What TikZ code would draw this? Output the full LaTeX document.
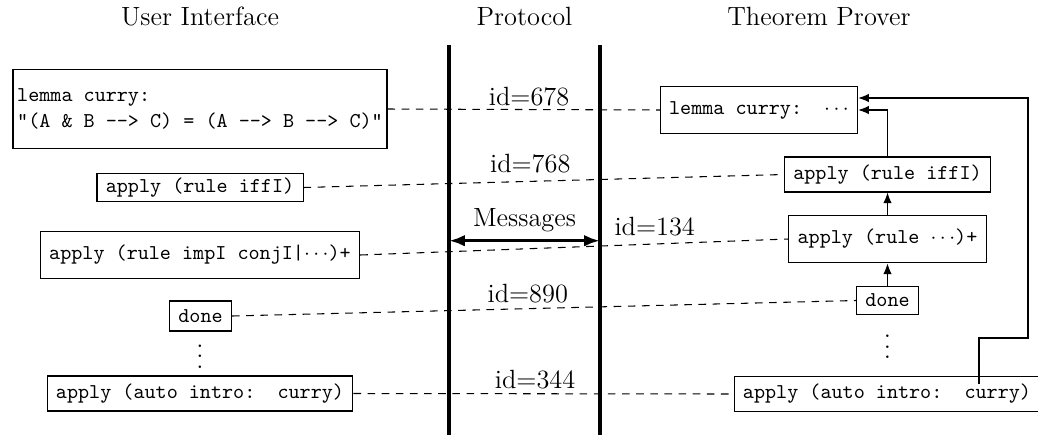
\documentclass[tikz,border=0pt]{standalone}
\usepackage{fontspec}
\setmonofont{Latin Modern Mono}
\usetikzlibrary{arrows.meta,calc}
\newcommand\myvdots{\vbox{\baselineskip5pt\lineskiplimit0pt\hbox{.}\hbox{.}\hbox{.}}}
\tikzset{
  box/.style={draw,line width=0.5pt,font=\ttfamily\fontsize{10}{12}\selectfont,inner xsep=4.2pt,inner ysep=0pt,anchor=center},
  rmtext/.style={font=\fontsize{12.5}{15}\selectfont},
  msgline/.style={line width=0.5pt,dash pattern=on 3.6pt off 3.1pt},
  lbl/.style={rmtext,anchor=base,inner sep=0pt},
  arr/.style={line width=0.5pt,-{Latex[length=5pt,width=4pt]}},
  wall/.style={line width=2pt},
  head/.style={rmtext,anchor=base,inner sep=0pt}
}
\begin{document}
\begin{tikzpicture}[x=0.4739pt,y=-0.4739pt]
\useasboundingbox (0,0) rectangle (1038,434);
% headers
\node[head] (hUI) at (200,25) {User Interface};
\node[head] (hPr) at (524.5,25) {Protocol};
\node[head] (hTP) at (819,25) {Theorem Prover};
% protocol walls
\coordinate (w1t) at (449,45); \coordinate (w1b) at (449,440);
\coordinate (w2t) at (600,45); \coordinate (w2b) at (600,440);
\draw[wall] (w1t) -- (w1b);
\draw[wall] (w2t) -- (w2b);
% left boxes
\node[box,inner xsep=2pt,minimum height=37pt,align=left] (lemmaL) at (200,109)
  {lemma curry:\\ "(A \& B -{}-> C) = (A -{}-> B -{}-> C)"};
\node[box,minimum height=13.7pt] (iffL) at (200,187.5) {apply (rule iffI)};
\node[box,minimum height=22.7pt] (impL) at (200,255) {apply (rule impI conjI|$\cdots$)+};
\node[box,minimum height=14.2pt] (doneL) at (200.5,316) {done};
\node[rmtext,inner sep=0pt] (vdL) at (200,356.5) {\myvdots};
\node[box,minimum height=16.6pt] (autoL) at (200,393.5) {apply (auto intro:\ \ curry)};
% right boxes
\node[box,minimum height=22.7pt] (rlemma) at (759,110) {lemma curry:\ \ $\cdots$};
\node[box,minimum height=16.6pt] (riff) at (887.5,174.5) {apply (rule iffI)};
\node[box,minimum height=22.7pt] (rrule) at (887.5,239) {apply (rule $\cdots$)+};
\node[box,minimum height=13.7pt] (rdone) at (887.5,300.5) {done};
\node[rmtext,inner sep=0pt] (vdR) at (887.5,347) {\myvdots};
\node[box,minimum height=17pt] (rauto) at (887,394) {apply (auto intro:\ \ curry)};
% messages
\draw[msgline] (lemmaL.east) -- node[lbl,pos=0.52,yshift=2.1pt] (l678) {id=678} (rlemma.west);
\draw[msgline] (iffL.east) -- node[lbl,pos=0.472,yshift=4.2pt] (l768) {id=768} (riff.west);
\draw[msgline] (impL.east) -- node[lbl,pos=0.688,yshift=3.8pt] (l134) {id=134} (rrule.west);
\draw[msgline] (doneL.east) -- node[lbl,pos=0.474,yshift=2.8pt] (l890) {id=890} (rdone.west);
\draw[msgline] (autoL.east) -- node[lbl,pos=0.478,yshift=2.4pt] (l344) {id=344} (rauto.west);
% Messages arrow
\coordinate (mL) at (449,240.7); \coordinate (mR) at (600,240.7);
\draw[line width=1.5pt,{Latex[length=7.5pt,width=5.5pt]}-{Latex[length=7.5pt,width=5.5pt]}]
  (mL) -- node[lbl,midway,yshift=6.6pt] (lmsg) {Messages} (mR);
% prover arrows
\draw[arr] (riff.north) |- (rlemma.east);
\draw[arr] (rrule.north) -- (riff.south);
\draw[arr] (rdone.north) -- (rrule.south);
\coordinate (loopS) at (979,384);
\coordinate (loopA) at (979,338);
\coordinate (loopB) at (1028,338);
\coordinate (loopC) at (1028,98);
\draw[arr] (loopS) -- (loopA) -- (loopB) -- (loopC) -- (rlemma.east |- loopC);
\end{tikzpicture}
\end{document}
